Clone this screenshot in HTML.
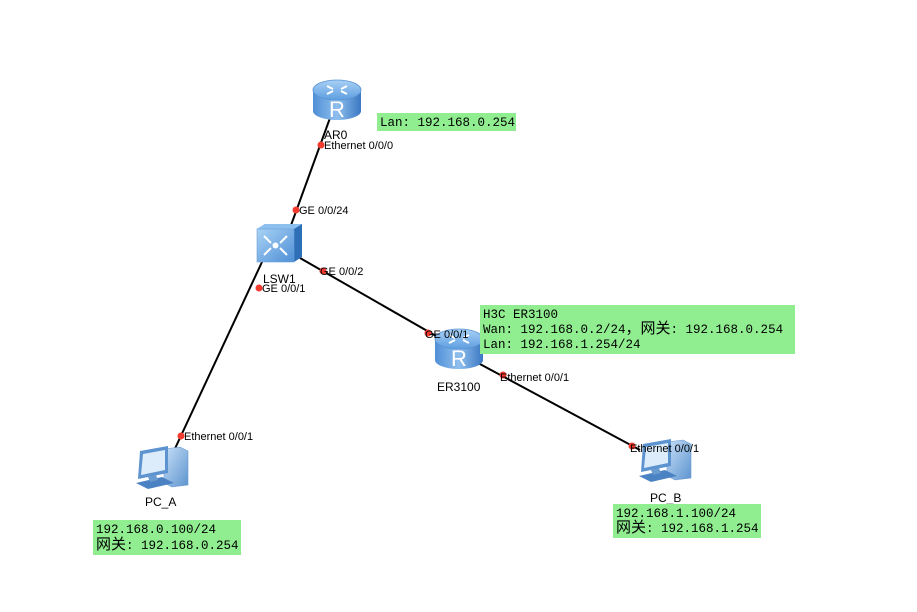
<!DOCTYPE html>
<html><head><meta charset="utf-8"><style>
body{margin:0;background:#fff;}
svg{display:block}
.l{font-family:"Liberation Sans",sans-serif;font-size:11px;fill:#000}
.n{font-family:"Liberation Sans",sans-serif;font-size:12px;fill:#000}
.m{font-family:"Liberation Mono","Noto Sans CJK SC",monospace;font-size:12.5px;fill:#000}
.c{font-size:15px}
</style></head><body>
<svg width="917" height="612" viewBox="0 0 917 612" xmlns="http://www.w3.org/2000/svg">
<defs>
<linearGradient id="rb" x1="0" x2="1"><stop offset="0" stop-color="#4f8fd6"/><stop offset="0.5" stop-color="#8fbfee"/><stop offset="1" stop-color="#3a78c2"/></linearGradient>
<linearGradient id="rt" x1="0" y1="0" x2="0" y2="1"><stop offset="0" stop-color="#a8d0f5"/><stop offset="1" stop-color="#5e9ee0"/></linearGradient>
<linearGradient id="sf" x1="0" y1="0" x2="1" y2="1"><stop offset="0" stop-color="#a9d2f5"/><stop offset="1" stop-color="#4e8fd6"/></linearGradient>
<linearGradient id="pcg" x1="0" y1="0" x2="1" y2="1"><stop offset="0" stop-color="#c7e0f7"/><stop offset="1" stop-color="#5d93cf"/></linearGradient>
<g id="router">
<path d="M0 11 L0 32 A24 9 0 0 0 48 32 L48 11 Z" fill="url(#rb)"/>
<ellipse cx="24" cy="11" rx="24" ry="10" fill="url(#rt)" stroke="#5a93d3" stroke-width="0.8"/>
<path d="M14 7 l6 3 M34 7 l-6 3 M14 15 l6 -3 M34 15 l-6 -3" stroke="#fff" stroke-width="2"/>
<text x="24" y="38" text-anchor="middle" font-family="Liberation Sans,sans-serif" font-size="22" fill="#fff">R</text>
</g>
<g id="pcicon">
<path d="M30 6 L46 4 L54 8 L54 42 L38 44 L30 40 Z" fill="url(#pcg)" stroke="#6a9bd0" stroke-width="0.6"/>
<path d="M6 8 L34 3 L34 30 L4 36 Z" fill="#5d93cf"/>
<path d="M9 11 L31 7 L31 27 L7 32 Z" fill="#dcecfb"/>
<path d="M2 40 L28 34 L40 40 L14 46 Z" fill="#4a82c3"/>
<path d="M14 34 L22 32 L24 37 L16 39 Z" fill="#6a9bd0"/>
</g>
</defs>
<g stroke="#000" stroke-width="2" fill="none">
<line x1="330" y1="118" x2="290" y2="228"/>
<line x1="262" y1="262" x2="172" y2="455"/>
<line x1="300" y1="258" x2="450" y2="344"/>
<line x1="478" y1="363" x2="640" y2="450"/>
</g>
<use href="#router" x="313" y="79"/>
<use href="#router" x="435" y="328"/>
<g>
<path d="M257 229 L265 224 L302 224 L302 257 L294 262 Z" fill="#2f6fb8"/>
<path d="M257 229 L265 224 L302 224 L294 229 Z" fill="#8ec0ef"/>
<rect x="257" y="229" width="37" height="33" fill="url(#sf)" stroke="#6aa0d8" stroke-width="0.6"/>
<circle cx="275.5" cy="245.5" r="3" fill="#fff"/>
<path d="M264 236 l7 7 M287 236 l-7 7 M264 255 l7 -7 M287 255 l-7 -7" stroke="#fff" stroke-width="2"/>
</g>
<use href="#pcicon" x="134" y="443"/>
<use href="#pcicon" x="637" y="436"/>
<g fill="#f23b2e">
<circle cx="321" cy="145" r="3.5"/><circle cx="296" cy="210" r="3.5"/>
<circle cx="259" cy="288" r="3.5"/><circle cx="181" cy="436" r="3.5"/>
<circle cx="323" cy="271" r="3.5"/><circle cx="428" cy="333" r="3.5"/>
<circle cx="503" cy="375" r="3.5"/><circle cx="632" cy="446" r="3.5"/>
</g>
<text class="n" x="324" y="139">AR0</text>
<text class="l" x="324" y="149">Ethernet 0/0/0</text>
<text class="l" x="299" y="214">GE 0/0/24</text>
<text class="n" x="263" y="283">LSW1</text>
<text class="l" x="262" y="292">GE 0/0/1</text>
<text class="l" x="320" y="275">GE 0/0/2</text>
<text class="l" x="425" y="338">GE 0/0/1</text>
<text class="n" x="437" y="391">ER3100</text>
<text class="l" x="500" y="381">Ethernet 0/0/1</text>
<text class="l" x="184" y="440">Ethernet 0/0/1</text>
<text class="l" x="630" y="452">Ethernet 0/0/1</text>
<text class="n" x="145" y="506">PC_A</text>
<text class="n" x="650" y="502">PC_B</text>
<rect x="377" y="113" width="139" height="18" fill="#90ee90"/>
<text class="m" x="380" y="126">Lan: 192.168.0.254</text>
<rect x="480" y="305" width="315" height="49" fill="#90ee90"/>
<text class="m" x="483" y="318">H3C ER3100</text>
<text class="m" x="483" y="333">Wan: 192.168.0.2/24<tspan class="c">，网关</tspan>: 192.168.0.254</text>
<text class="m" x="483" y="348">Lan: 192.168.1.254/24</text>
<rect x="93" y="520" width="148" height="35" fill="#90ee90"/>
<text class="m" x="96" y="533">192.168.0.100/24</text>
<text class="m" x="96" y="549"><tspan class="c">网关</tspan>: 192.168.0.254</text>
<rect x="613" y="504" width="148" height="34" fill="#90ee90"/>
<text class="m" x="616" y="517">192.168.1.100/24</text>
<text class="m" x="616" y="532"><tspan class="c">网关</tspan>: 192.168.1.254</text>
</svg>
</body></html>
